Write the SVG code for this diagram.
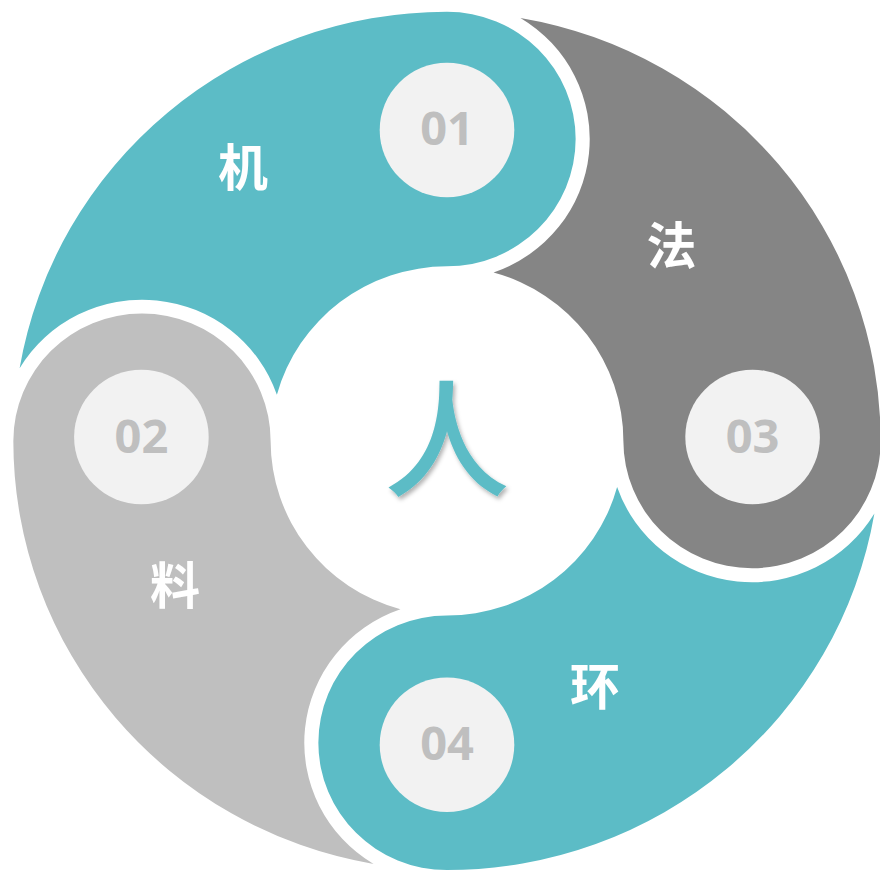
<svg xmlns="http://www.w3.org/2000/svg" xmlns:xlink="http://www.w3.org/1999/xlink" width="880" height="872" viewBox="0 0 880 872">
  <style>
    .teal { fill: #5CBCC6; }
    .dark { fill: #858585; }
    .light { fill: #BFBFBF; }
    .badge { fill: #F2F2F2; }
    .num { font-family: "Open Sans", "Liberation Sans", sans-serif; font-weight: 700; font-size: 47px; fill: #BFBFBF; text-anchor: middle; }
    .lbl { font-family: "Noto Sans CJK SC", "Noto Sans", sans-serif; font-weight: 700; font-size: 50px; fill: #FFFFFF; text-anchor: middle; }
    .ren { font-family: "Noto Sans CJK SC", "Noto Sans", sans-serif; font-weight: 500; font-size: 126px; fill: #5CBCC6; text-anchor: middle; }
  </style>
  <defs>
    <path id="seg" d="M -425.27,-73.06 A 431.5 431.5 0 0 1 0,-431.5 A 128 128 0 0 1 128,-303.5 A 128 128 0 0 1 0,-175.5 A 175.5 175.5 0 0 0 -169.27,-46.35 A 142 142 0 0 0 -425.27,-73.06 Z"/>
    <filter id="shadow" x="-20%" y="-20%" width="140%" height="140%">
      <feDropShadow dx="2" dy="3" stdDeviation="2" flood-color="#000" flood-opacity="0.3"/>
    </filter>
  </defs>
  <rect width="880" height="872" fill="#FFFFFF"/>
  <g id="node-01">
    <use xlink:href="#seg" href="#seg" class="teal" transform="translate(447 440.9) scale(1.005 0.9947)"/>
    <circle class="badge" cx="447" cy="130" r="67.3"/>
    <text class="num" x="447" y="145">01</text>
    <text class="lbl" x="243" y="186">机</text>
  </g>
  <g id="node-03">
    <use xlink:href="#seg" href="#seg" class="dark" transform="translate(447 440.9) scale(1.005 0.9947) rotate(90)"/>
    <circle class="badge" cx="752.6" cy="437" r="67.3"/>
    <text class="num" x="752.6" y="453">03</text>
    <text class="lbl" x="671.5" y="264">法</text>
  </g>
  <g id="node-04">
    <use xlink:href="#seg" href="#seg" class="teal" transform="translate(447 440.9) scale(1.005 0.9947) rotate(180)"/>
    <circle class="badge" cx="447" cy="744.7" r="67.3"/>
    <text class="num" x="447" y="759.5">04</text>
    <text class="lbl" x="595" y="704.5">环</text>
  </g>
  <g id="node-02">
    <use xlink:href="#seg" href="#seg" class="light" transform="translate(447 440.9) scale(1.005 0.9947) rotate(270)"/>
    <circle class="badge" cx="141.4" cy="437" r="67.3"/>
    <text class="num" x="141.4" y="453">02</text>
    <text class="lbl" x="175" y="603.5">料</text>
  </g>
  <g id="center">
    <text class="ren" x="447" y="487" filter="url(#shadow)">人</text>
  </g>
  <g id="connectors"/>
</svg>
